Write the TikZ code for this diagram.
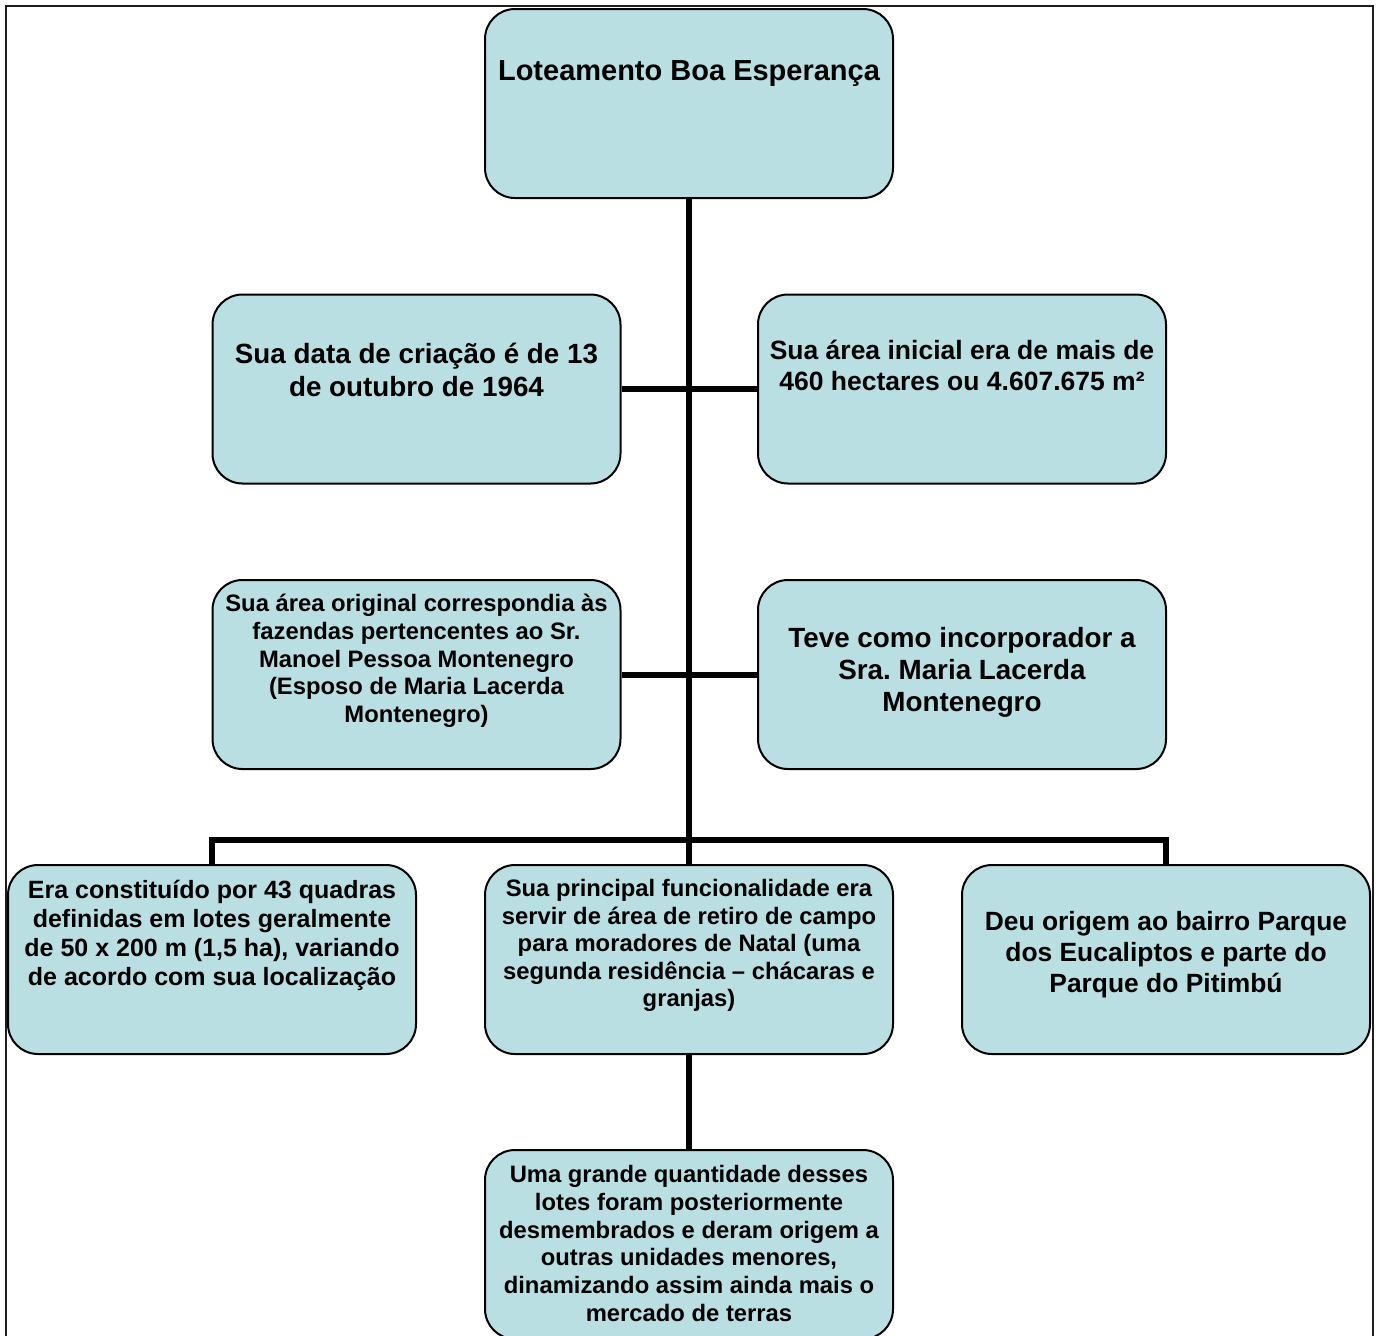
\documentclass[tikz,border=0pt]{standalone}
\usepackage{fontspec}
\setmainfont{Liberation Sans}
\frenchspacing
\usetikzlibrary{backgrounds}
\definecolor{boxblue}{RGB}{185,223,227}
\definecolor{framegray}{RGB}{30,30,30}
\begin{document}
\begin{tikzpicture}[x=0.5pt,y=-0.5pt,
  box/.style={draw=black,line width=1pt,fill=boxblue,rounded corners=15pt,
    minimum width=204pt,minimum height=94.5pt,inner sep=0pt},
  conn/.style={line width=3pt,black},
  txt/.style={align=center,inner sep=0pt,font=\bfseries}]
\useasboundingbox (0,0) rectangle (1382,1335);
\clip (0,0) rectangle (1382,1335);
% boxes
\path
  (689,103.5) node[box] (top) {}
  (416.5,389) node[box] (r2l) {}
  (962,389) node[box] (r2r) {}
  (416.5,674.5) node[box] (r3l) {}
  (962,674.5) node[box] (r3r) {}
  (212,959.5) node[box] (r4l) {}
  (689,959.5) node[box] (r4m) {}
  (1166,959.5) node[box] (r4r) {}
  (689,1244.5) node[box] (bot) {};
\coordinate (bus) at (689,840);
% connectors behind the boxes
\begin{pgfonlayer}{background}
\fill[white] (0,0) rectangle (1382,1335);
\draw[framegray,line width=1.3pt] (6,6) rectangle (1373,1360);
\draw[conn] (top.south) -- (r4m.north);
\draw[conn] (r2l.east) -- (r2r.west);
\draw[conn] (r3l.east) -- (r3r.west);
\draw[conn] (r4l.north) |- (bus) -| (r4r.north);
\draw[conn] (r4m.south) -- (bot.north);
\end{pgfonlayer}
% texts
\node[txt,font=\bfseries\fontsize{14.5}{17}\selectfont] (t0) at (689,74) {Loteamento Boa Esperança};
\node[txt,font=\bfseries\fontsize{13.9}{16.5}\selectfont] (t1) at (416.5,369.5) {Sua data de criação é de 13\\de outubro de 1964};
\node[txt,font=\bfseries\fontsize{13.25}{15.5}\selectfont] (t2) at (962,365.5) {Sua área inicial era de mais de\\460 hectares ou 4.607.675 m²};
\node[txt,font=\bfseries\fontsize{11.9}{13.85}\selectfont] (t3) at (416.5,661) {Sua área original correspondia às\\fazendas pertencentes ao Sr.\\Manoel Pessoa Montenegro\\(Esposo de Maria Lacerda\\Montenegro)};
\node[txt,font=\bfseries\fontsize{13.9}{16}\selectfont] (t4) at (962,672.5) {Teve como incorporador a\\Sra. Maria Lacerda\\Montenegro};
\node[txt,font=\bfseries\fontsize{12.5}{14.5}\selectfont] (t5) at (212,935) {Era constituído por 43 quadras\\definidas em lotes geralmente\\de 50 x 200 m (1,5 ha), variando\\de acordo com sua localização};
\node[txt,font=\bfseries\fontsize{11.9}{13.75}\selectfont] (t6) at (689,945.5) {Sua principal funcionalidade era\\servir de área de retiro de campo\\para moradores de Natal (uma\\segunda residência – chácaras e\\granjas)};
\node[txt,font=\bfseries\fontsize{13.2}{15.5}\selectfont] (t7) at (1166,955) {Deu origem ao bairro Parque\\dos Eucaliptos e parte do\\Parque do Pitimbú};
\node[txt,font=\bfseries\fontsize{11.9}{13.9}\selectfont] (t8) at (689,1243.5) {Uma grande quantidade desses\\lotes foram posteriormente\\desmembrados e deram origem a\\outras unidades menores,\\dinamizando assim ainda mais o\\mercado de terras};
\end{tikzpicture}
\end{document}
